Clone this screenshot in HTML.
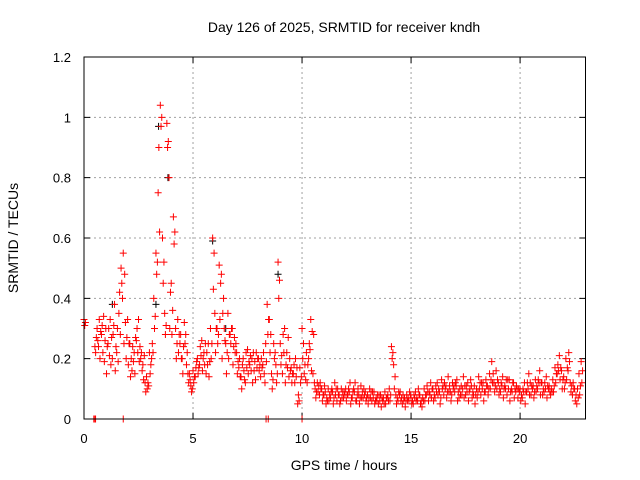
<!DOCTYPE html>
<html><head><meta charset="utf-8"><style>
body{margin:0;background:#fff;}
svg{display:block;font-family:"Liberation Sans",sans-serif;}
</style></head><body>
<svg id="chart" width="640" height="480" viewBox="0 0 640 480"></svg>
<script>
const xTicks=[0,5,10,15,20];
const yTicks=[0,0.2,0.4,0.6,0.8,1,1.2];
const yTickLabels=["0","0.2","0.4","0.6","0.8","1","1.2"];
const times=[0,0.5,0.6,0.7,0.8,0.9,
1.0,1.1,1.2,1.3,1.4,1.5,1.6,1.7,1.8,1.9,
2.0,2.1,2.2,2.3,2.4,2.5,2.6,2.7,2.8,2.9,
3.0,3.1,3.2,3.3,3.4,3.5,3.6,3.7,3.8,3.9,
4.0,4.1,4.2,4.3,4.4,4.5,4.6,4.7,4.8,4.9,
5.0,5.1,5.2,5.3,5.4,5.5,5.6,5.7,5.8,5.9,
6.0,6.1,6.2,6.3,6.4,6.5,6.6,6.7,6.8,6.9,
7.0,7.1,7.2,7.3,7.4,7.5,7.6,7.7,7.8,7.9,
8.0,8.1,8.2,8.3,8.4,8.5,8.6,8.7,8.8,8.9,
9.0,9.1,9.2,9.3,9.4,9.5,9.6,9.7,9.8,9.9,
10.0,10.1,10.2,10.3,10.4,10.5,10.6,10.7,10.8,10.9,
11.0,11.1,11.2,11.3,11.4,11.5,11.6,11.7,11.8,11.9,
12.0,12.1,12.2,12.3,12.4,12.5,12.6,12.7,12.8,12.9,
13.0,13.1,13.2,13.3,13.4,13.5,13.6,13.7,13.8,13.9,
14.0,14.1,14.2,14.3,14.4,14.5,14.6,14.7,14.8,14.9,
15.0,15.1,15.2,15.3,15.4,15.5,15.6,15.7,15.8,15.9,
16.0,16.1,16.2,16.3,16.4,16.5,16.6,16.7,16.8,16.9,
17.0,17.1,17.2,17.3,17.4,17.5,17.6,17.7,17.8,17.9,
18.0,18.1,18.2,18.3,18.4,18.5,18.6,18.7,18.8,18.9,
19.0,19.1,19.2,19.3,19.4,19.5,19.6,19.7,19.8,19.9,
20.0,20.1,20.2,20.3,20.4,20.5,20.6,20.7,20.8,20.9,
21.0,21.1,21.2,21.3,21.4,21.5,21.6,21.7,21.8,21.9,
22.0,22.1,22.2,22.3,22.4,22.5,22.6,22.7,22.8];
const srmtidA=[.33,.24,.30,.33,.28,.34,
.30,.25,.33,.20,.38,.22,.35,.50,.55,.32,
.33,.25,.16,.22,.26,.33,.20,.18,.12,.10,
.22,.20,.40,.55,.75,1.04,.60,.35,.98,.80,
.45,.67,.30,.33,.25,.20,.32,.18,.12,.11,
.16,.14,.20,.18,.26,.22,.15,.25,.30,.60,
.35,.30,.51,.48,.40,.25,.35,.28,.30,.27,
.22,.17,.14,.20,.12,.23,.18,.20,.16,.22,
.20,.14,.18,.12,.38,.33,.15,.25,.18,.52,
.25,.15,.30,.22,.14,.17,.15,.20,.05,.17,
.30,.15,.22,.20,.33,.15,.10,.12,.08,.10,
.08,.05,.10,.07,.09,.12,.06,.08,.10,.07,
.10,.08,.12,.07,.09,.06,.08,.11,.07,.09,
.08,.10,.06,.09,.07,.05,.08,.06,.09,.07,
.10,.24,.18,.08,.06,.09,.05,.07,.08,.06,
.07,.05,.09,.06,.08,.04,.10,.08,.06,.12,
.10,.07,.12,.09,.13,.08,.11,.14,.09,.12,
.09,.13,.07,.11,.14,.08,.12,.10,.07,.11,
.10,.14,.08,.12,.09,.11,.15,.19,.12,.16,
.12,.09,.14,.11,.08,.13,.10,.12,.09,.07,
.10,.07,.12,.09,.15,.08,.11,.13,.10,.16,
.12,.09,.14,.10,.08,.13,.17,.15,.21,.16,
.14,.20,.16,.12,.08,.10,.05,.15,.19];
const srmtidB=[.31,.22,.26,.20,.31,.19,
.15,.30,.18,.28,.16,.30,.42,.45,.25,.20,
.18,.14,.24,.15,.30,.19,.22,.13,.09,.12,
.15,.25,.30,.48,.90,.97,.45,.28,.90,.30,
.28,.58,.20,.22,.28,.15,.25,.22,.15,.09,
.12,.17,.15,.24,.16,.18,.22,.14,.20,.43,
.22,.25,.33,.20,.30,.15,.20,.25,.18,.22,
.15,.20,.10,.16,.22,.15,.21,.12,.19,.17,
.16,.20,.22,.25,.28,.22,.10,.20,.12,.40,
.18,.28,.12,.17,.20,.12,.18,.14,.08,.12,
.20,.18,.12,.25,.16,.28,.07,.09,.12,.06,
.11,.07,.06,.09,.05,.08,.10,.05,.07,.09,
.06,.10,.05,.09,.12,.08,.05,.07,.10,.06,
.05,.07,.09,.05,.06,.08,.04,.07,.05,.08,
.06,.20,.10,.05,.09,.06,.08,.04,.06,.09,
.05,.08,.06,.10,.05,.07,.06,.11,.09,.07,
.06,.11,.08,.05,.10,.12,.07,.09,.06,.10,
.12,.06,.10,.08,.07,.11,.06,.13,.09,.05,
.07,.10,.12,.06,.13,.08,.10,.12,.09,.10,
.08,.12,.07,.10,.13,.06,.09,.07,.11,.10,
.06,.10,.05,.12,.08,.11,.07,.09,.13,.08,
.08,.12,.07,.11,.10,.09,.12,.18,.13,.10,
.10,.13,.22,.09,.12,.06,.10,.08,.12];
const srmtidC=[.32,.27,.24,.29,.22,.26,
.24,.21,.27,.31,.24,.19,.28,.40,.48,.27,
.25,.20,.19,.27,.22,.24,.16,.21,.14,.11,
.18,.22,.34,.52,.62,1.00,.52,.31,.92,.42,
.36,.62,.25,.28,.20,.24,.28,.15,.13,.10,
.14,.19,.17,.21,.20,.25,.18,.19,.25,.55,
.30,.28,.45,.35,.26,.22,.28,.30,.24,.25,
.19,.14,.18,.13,.17,.19,.16,.22,.13,.20,
.18,.17,.15,.19,.33,.28,.13,.22,.15,.46,
.21,.22,.18,.27,.16,.15,.12,.17,.06,.14,
.25,.13,.18,.23,.29,.12,.09,.11,.10,.08,
.09,.06,.08,.10,.07,.10,.08,.06,.09,.08,
.08,.09,.07,.10,.06,.10,.07,.09,.08,.07,
.07,.09,.07,.06,.08,.06,.07,.05,.07,.06,
.08,.22,.14,.07,.08,.07,.06,.06,.07,.08,
.06,.07,.07,.08,.06,.06,.08,.09,.08,.10,
.08,.09,.10,.07,.11,.10,.09,.11,.08,.11,
.11,.09,.08,.10,.11,.09,.09,.11,.08,.08,
.09,.12,.10,.09,.11,.10,.13,.15,.11,.13,
.10,.11,.10,.13,.10,.09,.12,.10,.10,.09,
.08,.09,.09,.10,.12,.10,.09,.11,.12,.12,
.10,.10,.11,.09,.09,.11,.15,.16,.17,.13,
.12,.17,.19,.11,.10,.08,.07,.11,.16];
const zeroTimes=[0.45,0.5,0.53,1.8,8.35,8.45,10.0];
const blackTimes=[1.3,3.3,3.42,3.85,5.9,6.5,8.9];
const blackValues=[.38,.38,.97,.80,.59,.30,.48];

const NS="http://www.w3.org/2000/svg";
const svg=document.getElementById('chart');
const L=84,R=585.5,T=57,B=419,XMAX=23,YMAX=1.2;
function xs(v){return L+(R-L)*v/XMAX;}
function ys(v){return B-(B-T)*v/YMAX;}
function mk(tag,attrs,parent){const e=document.createElementNS(NS,tag);for(const k in attrs)e.setAttribute(k,attrs[k]);(parent||svg).appendChild(e);return e;}

const grid=mk('g',{});


yTicks.forEach((v,i)=>{
  if(v>0&&v<YMAX){const g=mk('line',{x1:L,x2:R,y1:ys(v),y2:ys(v),stroke:'#a0a0a0','stroke-dasharray':'2,3','stroke-width':1},grid);
  
  }
  const tk=mk('path',{d:`M${L},${ys(v)}h6M${R},${ys(v)}h-6`,stroke:'#000','stroke-width':1});
  
  
  const t=mk('text',{x:71,y:ys(v)+5,'text-anchor':'end','font-size':13,fill:'#000'});
  t.textContent=yTickLabels[i];
  
  
});
xTicks.forEach(v=>{
  if(v>0){const g=mk('line',{x1:xs(v),x2:xs(v),y1:T,y2:B,stroke:'#a0a0a0','stroke-dasharray':'2,3','stroke-width':1},grid);
  
  }
  const tk=mk('path',{d:`M${xs(v)},${B}v-6M${xs(v)},${T}v6`,stroke:'#000','stroke-width':1});
  
  
  const t=mk('text',{x:xs(v),y:443,'text-anchor':'middle','font-size':13,fill:'#000'});
  t.textContent=String(v);
  
  
});

function plus(g,x,y,color){
  const p=mk('path',{d:`M${xs(x)-3.5},${ys(y)}h7M${xs(x)},${ys(y)-3.5}v7`,stroke:color,'stroke-width':1,fill:'none'},g);
  
  
}
const gb=mk('g',{});


blackTimes.forEach((t,i)=>plus(gb,t,blackValues[i],'#000'));
const gr=mk('g',{});


times.forEach((t,i)=>{plus(gr,t,srmtidA[i],'#f00');plus(gr,t+0.033,srmtidB[i],'#f00');plus(gr,t+0.066,srmtidC[i],'#f00');});
zeroTimes.forEach(t=>plus(gr,t,0,'#f00'));

const frame=mk('rect',{x:L,y:T,width:R-L,height:B-T,fill:'none',stroke:'#000','stroke-width':1});



const title=mk('text',{x:344,y:32,'text-anchor':'middle','font-size':14,fill:'#000'});
title.textContent='Day 126 of 2025, SRMTID for receiver kndh';


const xl=mk('text',{x:344,y:470,'text-anchor':'middle','font-size':14,fill:'#000'});
xl.textContent='GPS time / hours';


const yl=mk('text',{x:18,y:238,'text-anchor':'middle','font-size':14,fill:'#000',transform:'rotate(-90 18 238)'});
yl.textContent='SRMTID / TECUs';


</script>
</body></html>
